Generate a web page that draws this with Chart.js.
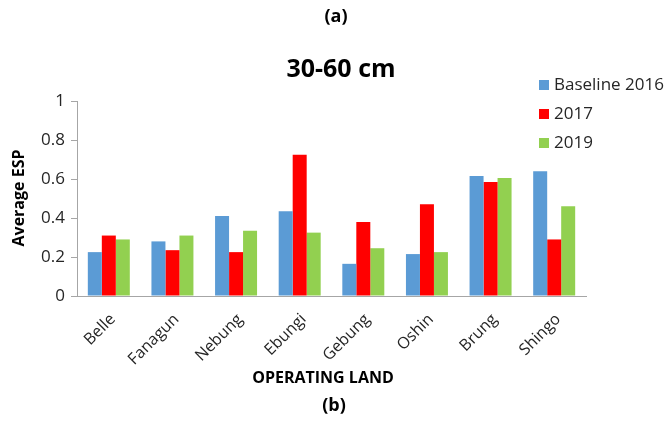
<!DOCTYPE html>
<html>
<head>
<meta charset="utf-8">
<script src="https://cdn.jsdelivr.net/npm/chart.js@4.4.1/dist/chart.umd.min.js"></script>
<style>
  html, body { margin: 0; padding: 0; background: #fff; }
  #wrap { width: 668px; height: 424px; position: relative; }
</style>
</head>
<body>
<div id="wrap"><canvas id="myChart"></canvas></div>
<script>
const lands = ['Belle', 'Fanagun', 'Nebung', 'Ebungi', 'Gebung', 'Oshin', 'Brung', 'Shingo'];
const baseline2016 = [0.225, 0.28, 0.41, 0.435, 0.165, 0.215, 0.615, 0.64];
const y2017 = [0.31, 0.235, 0.225, 0.725, 0.38, 0.47, 0.585, 0.29];
const y2019 = [0.29, 0.31, 0.335, 0.325, 0.245, 0.225, 0.605, 0.46];
const seriesNames = ['Baseline 2016', '2017', '2019'];
const seriesColors = ['#5B9BD5', '#FF0000', '#92D050'];
const yTickLabels = ['0', '0.2', '0.4', '0.6', '0.8', '1'];

const font = "'Open Sans', sans-serif";
const textColor = '#262626';
const axisColor = '#A6A6A6';

// titles, axis names and the side legend drawn straight on the canvas
const extras = {
  id: 'extras',
  afterDraw(chart) {
    const ctx = chart.ctx;
    ctx.save();
    ctx.textAlign = 'center';
    ctx.textBaseline = 'middle';
    ctx.fillStyle = '#000';
    ctx.font = "bold 18px " + font;
    ctx.fillText('(a)', 336, 17);
    ctx.fillText('(b)', 334, 406);
    ctx.font = "bold 25px " + font;
    ctx.fillText('30-60 cm', 341, 70);
    ctx.font = "bold 16px " + font;
    ctx.fillText('OPERATING LAND', 323, 378);
    ctx.save();
    ctx.translate(19, 198);
    ctx.rotate(-Math.PI / 2);
    ctx.fillText('Average ESP', 0, 0);
    ctx.restore();

    ctx.textAlign = 'left';
    ctx.font = "17px " + font;
    chart.data.datasets.forEach((ds, i) => {
      const y = 85 + i * 29;
      ctx.fillStyle = ds.backgroundColor;
      ctx.fillRect(539, y - 5, 10, 10);
      ctx.fillStyle = textColor;
      ctx.fillText(ds.label, 554, y);
    });
    ctx.restore();
  }
};

new Chart(document.getElementById('myChart'), {
  type: 'bar',
  data: {
    labels: lands,
    datasets: [
      { label: seriesNames[0], data: baseline2016, backgroundColor: seriesColors[0] },
      { label: seriesNames[1], data: y2017, backgroundColor: seriesColors[1] },
      { label: seriesNames[2], data: y2019, backgroundColor: seriesColors[2] }
    ]
  },
  options: {
    responsive: true,
    maintainAspectRatio: false,
    animation: false,
    layout: { padding: { left: 0, top: 101, right: 82, bottom: 0 } },
    datasets: { bar: { categoryPercentage: 0.66, barPercentage: 1.0 } },
    plugins: {
      legend: { display: false },
      title: { display: false },
      tooltip: { enabled: false }
    },
    scales: {
      x: {
        afterFit(scale) { scale.height = 128; },
        grid: { display: false },
        border: { color: axisColor, width: 1 },
        ticks: {
          maxRotation: 45,
          minRotation: 45,
          padding: 6,
          labelOffset: 4,
          color: textColor,
          font: { family: font, size: 16 }
        }
      },
      y: {
        min: 0,
        max: 1,
        afterFit(scale) { scale.width = 77; },
        grid: { drawOnChartArea: false, drawTicks: true, tickLength: 6, color: axisColor },
        border: { color: axisColor, width: 1 },
        ticks: {
          stepSize: 0.2,
          padding: 6,
          color: textColor,
          font: { family: font, size: 17 },
          callback: (v, i) => yTickLabels[i]
        }
      }
    }
  },
  plugins: [extras]
});
</script>
</body>
</html>
